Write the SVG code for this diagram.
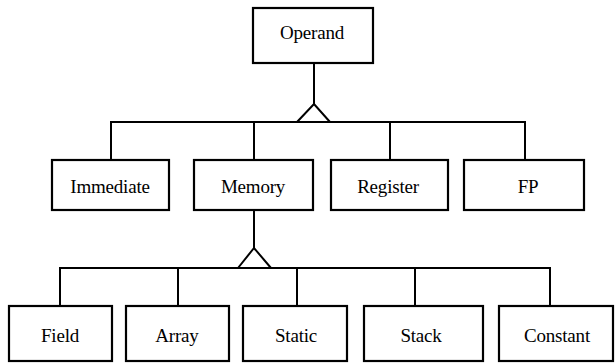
<svg xmlns="http://www.w3.org/2000/svg" width="615" height="364" viewBox="0 0 615 364">
<style>
.box{fill:#fff;stroke:#000;stroke-width:2.2}
.ln{fill:none;stroke:#000;stroke-width:2}
text{font-family:"Liberation Serif","Times New Roman",serif;font-size:19px;fill:#000;text-anchor:middle;letter-spacing:-0.2px}
</style>
<rect width="615" height="364" fill="#fff"/>
<g id="connectors">
<path class="ln" d="M314,63 V104 M297,122 L314,104 L330,122"/>
<path class="ln" d="M111,160 V122 H525 V160 M254,122 V160 M390,122 V160"/>
<path class="ln" d="M254,210 V248 M238,268 L254,248 L271,268"/>
<path class="ln" d="M60,306 V268 H550 V306 M178,268 V306 M297,268 V306 M415,268 V306"/>
</g>
<g id="operand"><rect class="box" x="253" y="8" width="120" height="55"/><text x="312" y="38.5">Operand</text></g>
<g id="immediate"><rect class="box" x="52" y="160" width="117" height="50"/><text x="110" y="192.5">Immediate</text></g>
<g id="memory"><rect class="box" x="194" y="160" width="119" height="50"/><text x="253" y="192.5">Memory</text></g>
<g id="register"><rect class="box" x="331" y="160" width="117" height="50"/><text x="388" y="192.5">Register</text></g>
<g id="fp"><rect class="box" x="464" y="160" width="120" height="50"/><text x="528" y="192.5">FP</text></g>
<g id="field"><rect class="box" x="9" y="306" width="103" height="55"/><text x="60" y="342">Field</text></g>
<g id="array"><rect class="box" x="126" y="306" width="103" height="55"/><text x="177" y="342">Array</text></g>
<g id="static"><rect class="box" x="243" y="306" width="104" height="55"/><text x="296" y="342">Static</text></g>
<g id="stack"><rect class="box" x="364" y="306" width="119" height="55"/><text x="421" y="342">Stack</text></g>
<g id="constant"><rect class="box" x="499" y="306" width="114" height="55"/><text x="557" y="342">Constant</text></g>
</svg>
